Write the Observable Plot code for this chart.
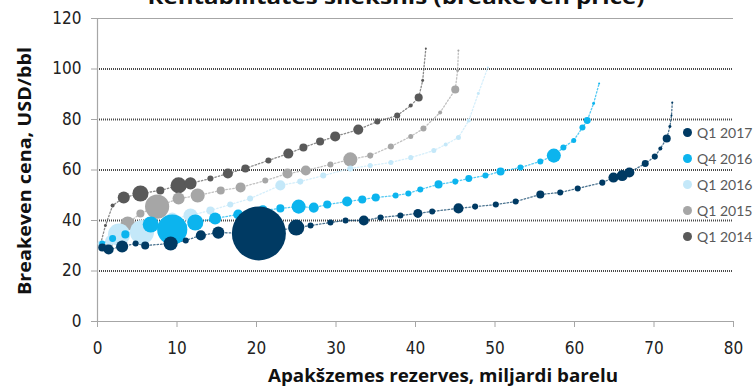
<!DOCTYPE html>
<html>
<head>
<meta charset="utf-8">
<script src="https://cdn.jsdelivr.net/npm/d3@7"></script>
<script src="https://cdn.jsdelivr.net/npm/@observablehq/plot@0.6"></script>
<style>
  html, body { margin: 0; padding: 0; background: #fff; }
  #chart { position: relative; width: 755px; height: 387px; overflow: hidden; }
  #legend { position: absolute; left: 683px; top: 119px; font-family: Lato, "Open Sans", sans-serif; font-size: 14px; color: #595959; }
  #legend .row { height: 26.2px; display: flex; align-items: center; white-space: nowrap; }
  #legend .sw { width: 9px; height: 9px; border-radius: 50%; margin-right: 5px; }
</style>
</head>
<body>
<div id="chart"></div>
<script>
// ---- data ----
const seriesNames = ["Q1 2017", "Q4 2016", "Q1 2016", "Q1 2015", "Q1 2014"];
const seriesColors = ["#003a63", "#0cb4ee", "#c4e8f9", "#a6a6a6", "#595959"];
const xTicks = [0, 10, 20, 30, 40, 50, 60, 70, 80];
const yTicks = [0, 20, 40, 60, 80, 100, 120];
const titleText = "Rentabilitātes slieksnis (breakeven price)";
const xTitle = "Apakšzemes rezerves, miljardi barelu";
const yTitle = "Breakeven cena, USD/bbl";

// [cumulative reserves (bn bbl), breakeven price (USD/bbl), bubble size]
const q1_2017 = [
  [0.6,29.3,0.8],[1.4,28.5,1.25],[3.1,29.7,1.8],[4.8,30.9,0.45],[6.0,30.1,0.8],
  [9.2,30.9,2.45],[11.1,32.1,0.45],[13.0,34.1,1.25],[15.2,35.2,1.8],[20.3,34.9,36],
  [25.0,37.2,3.2],[26.8,38.0,0.45],[29.3,39.2,0.45],[31.2,40.0,0.45],[33.5,40.0,1.25],
  [35.6,41.2,0.45],[38.1,42.0,0.45],[40.3,42.8,1.0],[42.1,43.6,0.45],[45.4,44.8,1.25],
  [47.5,45.5,0.45],[50.1,46.3,0.45],[52.6,47.5,0.45],[55.7,50.3,0.8],[58.2,51.1,0.45],
  [60.4,52.7,0.45],[63.5,55.0,0.45],[64.9,57.0,1.25],[66.0,57.8,1.5],[66.9,59.0,1.25],
  [68.9,62.6,0.6],[70.1,65.3,0.45],[70.8,68.5,0.2],[71.6,72.5,0.8],[72.0,77.2,0.11],
  [72.2,81.6,0.05],[72.3,86.7,0.05]
];
const q4_2016 = [
  [0.6,30.9,0.45],[1.9,32.9,0.6],[3.5,34.5,0.8],[6.7,38.4,3.2],[9.4,36.4,11.25],
  [12.3,39.2,3.2],[14.8,40.8,1.8],[17.7,42.4,1.25],[20.8,44.0,1.25],[23.0,44.8,0.8],
  [25.3,45.5,2.45],[27.2,45.1,1.25],[28.9,46.3,0.8],[31.4,47.5,1.25],[33.3,48.3,0.8],
  [35.0,49.1,0.8],[37.5,49.9,0.45],[39.1,50.7,0.45],[40.6,52.3,0.45],[42.9,54.3,0.8],
  [45.0,55.4,0.45],[46.7,56.6,0.6],[48.8,57.8,0.45],[50.7,59.4,0.8],[53.2,61.0,0.45],
  [55.7,63.4,0.45],[57.4,65.7,2.45],[58.6,68.9,0.45],[59.9,71.7,0.31],[61.0,76.8,0.45],
  [61.6,79.6,0.6],[62.4,86.3,0.11],[63.1,94.3,0.05]
];
const q1_2016 = [
  [0.4,30.9,0.45],[1.6,32.1,1.25],[2.7,34.4,6.0],[5.6,35.4,7.2],[9.4,40.8,1.8],
  [11.7,42.0,2.45],[14.2,44.0,0.8],[16.7,46.3,0.45],[19.2,48.7,0.45],[23.0,53.9,1.25],
  [25.5,55.4,0.45],[28.4,57.8,0.45],[31.8,60.6,0.45],[34.3,61.8,0.31],[36.9,63.0,0.31],
  [39.4,64.9,0.31],[42.3,67.7,0.31],[43.8,70.1,0.2],[45.4,72.9,0.31],[46.7,79.6,0.2],
  [47.9,90.3,0.11],[49.1,100.6,0.05]
];
const q1_2015 = [
  [0.6,30.1,0.45],[1.6,30.9,0.45],[3.8,38.8,2.45],[5.4,42.8,0.8],[7.5,45.5,7.2],
  [10.2,48.7,1.8],[12.6,49.9,2.45],[15.5,51.9,0.8],[18.0,53.1,1.25],[21.1,55.8,0.45],
  [23.9,58.6,1.25],[26.2,59.8,1.25],[29.3,62.2,0.45],[31.8,64.2,2.45],[34.3,65.7,0.45],
  [36.9,69.3,0.45],[39.4,73.3,0.31],[41.0,76.4,0.45],[43.1,82.8,0.2],[45.0,91.9,0.8],
  [45.3,99.4,0.11],[45.4,107.3,0.05]
];
const q1_2014 = [
  [0.4,30.9,0.2],[1.0,38.0,0.11],[1.9,45.9,0.2],[3.3,49.1,1.8],[5.4,50.7,3.2],
  [7.9,51.9,0.8],[10.2,53.9,3.2],[11.7,54.7,1.8],[14.2,56.6,0.45],[16.4,58.6,1.25],
  [18.6,60.6,0.8],[21.5,63.8,0.45],[24.0,66.5,1.25],[25.9,68.9,0.8],[28.0,71.3,0.8],
  [29.9,73.3,1.25],[32.8,76.0,1.25],[35.2,79.2,0.45],[37.7,81.6,0.45],[39.4,85.5,0.2],
  [40.4,88.7,0.8],[40.9,95.4,0.11],[41.3,108.1,0.05]
];

const seriesData = [q1_2017, q4_2016, q1_2016, q1_2015, q1_2014];
const rows = seriesData.map((arr, i) => arr.map(([x, y, v]) => ({series: seriesNames[i], x, y, v})));

// draw oldest first so Q1 2017 sits on top
const drawOrder = [4, 3, 2, 1, 0];

const tickFont = '"Liberation Sans Narrow", "DejaVu Sans Condensed", sans-serif';
const labelFont = '"Open Sans", Lato, sans-serif';

const marks = [
  Plot.ruleY(yTicks.filter(d => d > 0 && d < 120), {stroke: "#4a4a4a", strokeWidth: 2, strokeDasharray: "1,1"}),
  Plot.ruleY([120], {stroke: "#a6a6a6", strokeWidth: 1.2}),
  Plot.ruleY([0], {stroke: "#a6a6a6", strokeWidth: 1.2}),
  Plot.ruleX([0], {stroke: "#a6a6a6", strokeWidth: 1.2}),
  Plot.axisY({ticks: yTicks, tickSize: 6, tickPadding: 10, stroke: "#a6a6a6", fill: "#222", fontSize: 17, fontFamily: tickFont, label: null}),
  Plot.axisX({ticks: xTicks, tickSize: 6, tickPadding: 14, stroke: "#a6a6a6", fill: "#222", fontSize: 17, fontFamily: tickFont, label: null})
];
for (const i of drawOrder) {
  marks.push(Plot.line(rows[i], {x: "x", y: "y", stroke: "series", strokeWidth: 1.3, strokeDasharray: "1.5,2", strokeOpacity: 0.7}));
}
for (const i of drawOrder) {
  marks.push(Plot.dot(rows[i], {x: "x", y: "y", r: "v", fill: "series", stroke: null}));
}

const plot = Plot.plot({
  width: 755,
  height: 387,
  marginLeft: 97,
  marginRight: 22,
  marginTop: 18,
  marginBottom: 66,
  x: {domain: [0, 80]},
  y: {domain: [0, 120]},
  r: {type: "sqrt", domain: [0, 36], range: [0, 27]},
  color: {domain: seriesNames, range: seriesColors},
  style: {background: "white", overflow: "visible"},
  marks
});

const chart = document.getElementById("chart");
chart.appendChild(plot);

const svg = d3.select(plot);
svg.append("text")
  .attr("x", 396).attr("y", 4)
  .attr("text-anchor", "middle")
  .attr("font-family", labelFont).attr("font-weight", "bold").attr("font-size", 19)
  .attr("fill", "#111")
  .attr("textLength", 497).attr("lengthAdjust", "spacingAndGlyphs")
  .text(titleText);
svg.append("text")
  .attr("x", 443).attr("y", 382)
  .attr("text-anchor", "middle")
  .attr("font-family", labelFont).attr("font-weight", "bold").attr("font-size", 18.5)
  .attr("fill", "#111")
  .attr("textLength", 350).attr("lengthAdjust", "spacingAndGlyphs")
  .text(xTitle);
svg.append("text")
  .attr("transform", "translate(31,171) rotate(-90)")
  .attr("text-anchor", "middle")
  .attr("font-family", labelFont).attr("font-weight", "bold").attr("font-size", 18.5)
  .attr("fill", "#111")
  .attr("textLength", 248).attr("lengthAdjust", "spacingAndGlyphs")
  .text(yTitle);

// legend
const legend = document.createElement("div");
legend.id = "legend";
seriesNames.forEach((name, i) => {
  const row = document.createElement("div");
  row.className = "row";
  const sw = document.createElement("span");
  sw.className = "sw";
  sw.style.background = seriesColors[i];
  const tx = document.createElement("span");
  tx.textContent = name;
  row.appendChild(sw);
  row.appendChild(tx);
  legend.appendChild(row);
});
chart.appendChild(legend);
</script>
</body>
</html>
